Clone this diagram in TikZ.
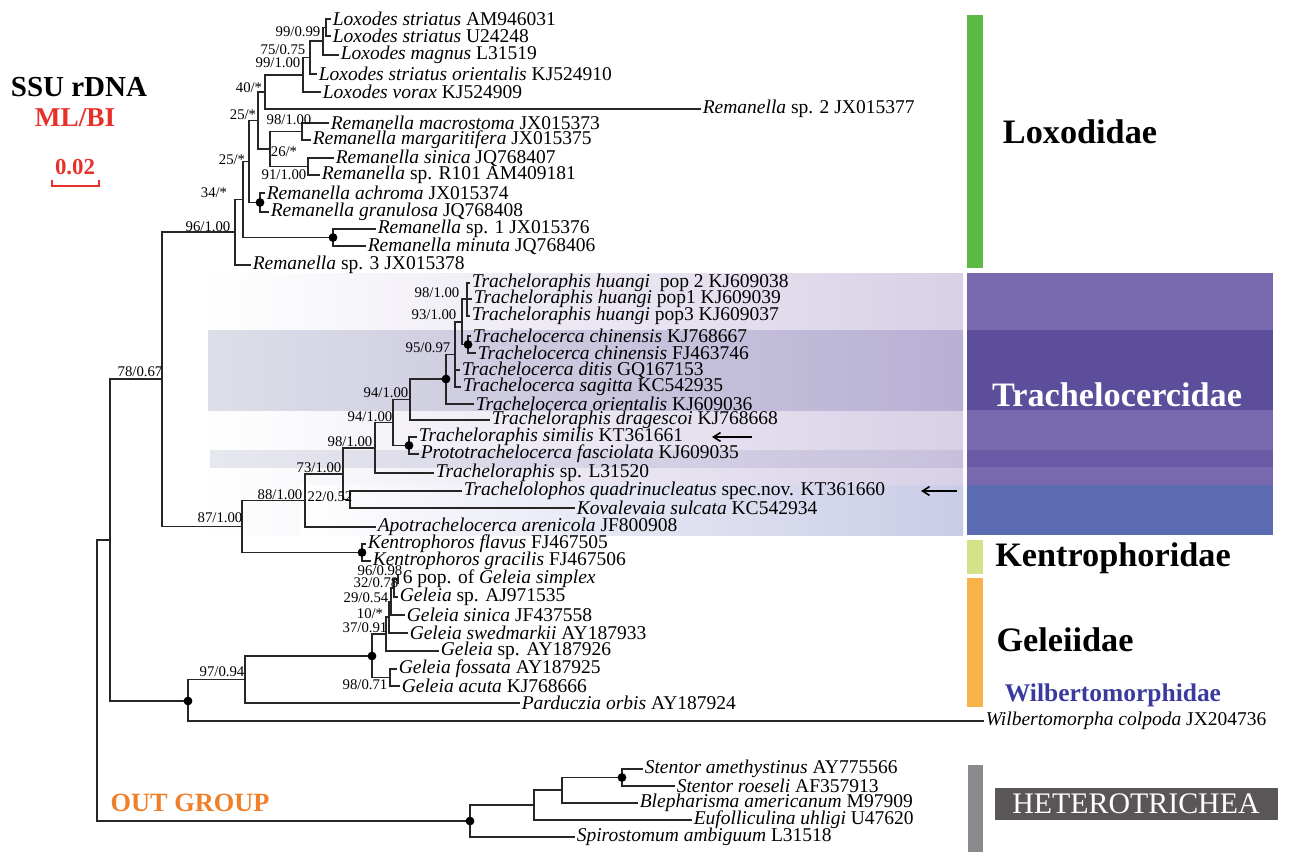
\documentclass[tikz,border=0pt]{standalone}
\usepackage{fontspec}
\setmainfont{Liberation Serif}
\usetikzlibrary{arrows.meta}

\definecolor{barred}{HTML}{E8302A}
\definecolor{outorange}{HTML}{F07F2A}
\definecolor{wilblue}{HTML}{3B3B9E}
\definecolor{loxgreen}{HTML}{5CB946}
\definecolor{kengreen}{HTML}{D4E28A}
\definecolor{gelorange}{HTML}{F7B347}
\definecolor{hetgrey}{HTML}{8A898E}
\definecolor{hetbox}{HTML}{5A5657}
\definecolor{trA}{HTML}{7868AD}
\definecolor{trB}{HTML}{5C4E9A}
\definecolor{trC}{HTML}{6A5AA5}
\definecolor{trD}{HTML}{5B6BB1}
\definecolor{lavlight}{HTML}{D8D0E6}
\definecolor{lavdark}{HTML}{B8B0D4}
\definecolor{greyband}{HTML}{DCDEE8}
\definecolor{bluelight}{HTML}{C9CCE6}

\tikzset{
  leaf/.style={anchor=west, inner xsep=0.8pt, inner ysep=0pt, font=\fontsize{11.1}{13}\selectfont},
  supp/.style={inner sep=0pt, font=\fontsize{8.4}{10}\selectfont},
  br/.style={line width=0.7pt, black!85},
  knot/.style={circle, fill=black, inner sep=0pt, minimum size=5pt},
  clade/.style={font=\bfseries\fontsize{19.5}{22}\selectfont},
}

\begin{document}
\begin{tikzpicture}[x=0.02cm, y=-0.02cm]
  \useasboundingbox (0,0) rectangle (1292,852);

  % shaded background of the Trachelocercidae part
  \shade[left color=white, right color=lavlight] (200,273) rectangle (963,535);
  \shade[left color=greyband, right color=lavdark] (208,330) rectangle (963,410);
  \shade[left color=greyband!70, right color=lavdark!80] (210,450) rectangle (963,467);
  \shade[left color=white, right color=bluelight] (300,485) rectangle (963,535);

  % family bars and boxes
  \fill[loxgreen] (967,15) rectangle (983,268);
  \fill[trA] (967,273) rectangle (1273,330);
  \fill[trB] (967,330) rectangle (1273,410);
  \fill[trA] (967,410) rectangle (1273,450);
  \fill[trC] (967,450) rectangle (1273,467);
  \fill[trA] (967,467) rectangle (1273,485);
  \fill[trD] (967,485) rectangle (1273,535);
  \fill[kengreen] (967,540) rectangle (983,574);
  \fill[gelorange] (967,578) rectangle (983,707);
  \fill[hetgrey] (968,765) rectangle (983,852);
  \fill[hetbox] (995,788) rectangle (1278,820);

  \node[clade] (loxo) at (1080,132) {Loxodidae};
  \node[clade, text=white] (trach) at (1117,395) {Trachelocercidae};
  \node[clade] (kent) at (1113,558) {Kentrophoridae};
  \node[clade] (gele) at (1065,640) {Geleiidae};
  \node[font=\bfseries\fontsize{14.5}{17}\selectfont, text=wilblue] (wilb) at (1113,695) {Wilbertomorphidae};
  \node[font=\fontsize{17}{20}\selectfont, text=white] (hetero) at (1136,804) {HETEROTRICHEA};

  % title and scale
  \node[font=\bfseries\fontsize{16.5}{19}\selectfont] (ssu) at (79,87) {SSU rDNA};
  \node[font=\bfseries\fontsize{15.5}{18}\selectfont, text=barred] (mlbi) at (75,118) {ML/BI};
  \node[font=\bfseries\fontsize{13}{15}\selectfont, text=barred] (scal) at (75,167) {0.02};
  \draw[barred, line width=1.1pt] (52,180) -- (52,186) -- (99,186) -- (99,180);
  \node[font=\bfseries\fontsize{15}{18}\selectfont, text=outorange] (outg) at (190,803) {OUT GROUP};

  % internal nodes
  \coordinate (D) at (326,27.5);
  \coordinate (C) at (323,41);
  \coordinate (B) at (310,57.5);
  \coordinate (A) at (303,75);
  \coordinate (E) at (265,92);
  \coordinate (F) at (302,131.5);
  \coordinate (G) at (308,166.5);
  \coordinate (H) at (270,149);
  \coordinate (I) at (258,120.5);
  \coordinate (J) at (260,202.5);
  \coordinate (K) at (249,161.5);
  \coordinate (M) at (333,237.5);
  \coordinate (L) at (243,199.5);
  \coordinate (N) at (235,232);
  \coordinate (H3) at (467,299);
  \coordinate (CH) at (468,344.5);
  \coordinate (BB) at (462,322);
  \coordinate (AA) at (455,354.5);
  \coordinate (Z) at (446,379);
  \coordinate (X) at (410,399.5);
  \coordinate (Y) at (409,445.5);
  \coordinate (W) at (393,422.5);
  \coordinate (V) at (375,448);
  \coordinate (U) at (350,499.5);
  \coordinate (T) at (343,474);
  \coordinate (R) at (305,500.5);
  \coordinate (S) at (362,552.5);
  \coordinate (Q) at (242,526.5);
  \coordinate (P) at (162,379);
  \coordinate (G32) at (394,588);
  \coordinate (G29) at (391,601.5);
  \coordinate (G10) at (389,617);
  \coordinate (G37) at (386,634);
  \coordinate (GF) at (390,677.5);
  \coordinate (GB) at (372,656);
  \coordinate (GA) at (245,679.5);
  \coordinate (GW) at (188,701);
  \coordinate (P2) at (110,540);
  \coordinate (OJ) at (622,777.5);
  \coordinate (OI) at (562,790);
  \coordinate (OH) at (534,805);
  \coordinate (OG) at (470,821);
  \coordinate (root) at (97,680.5);
  \coordinate (sx) at (398,579);
  \coordinate (sxtop) at (398,574);
  \coordinate (sxbot) at (398,584);

  % leaves
  \node[leaf] (l1) at (331,19) {\textit{Loxodes striatus} AM946031};
  \node[leaf] (l2) at (331,36) {\textit{Loxodes striatus} U24248};
  \node[leaf] (l3) at (339,55) {\textit{Loxodes magnus} L31519};
  \node[leaf] (l4) at (317,74) {\textit{Loxodes striatus orientalis} KJ524910};
  \node[leaf] (l5) at (321,92) {\textit{Loxodes vorax} KJ524909};
  \node[leaf] (l6) at (701,109) {\textit{Remanella} sp. 2 JX015377};
  \node[leaf] (l7) at (329,123) {\textit{Remanella macrostoma} JX015373};
  \node[leaf] (l8) at (311,140) {\textit{Remanella margaritifera} JX015375};
  \node[leaf] (l9) at (334,158) {\textit{Remanella sinica} JQ768407};
  \node[leaf] (l10) at (320,175) {\textit{Remanella} sp. R101 AM409181};
  \node[leaf] (l11) at (265,193) {\textit{Remanella achroma} JX015374};
  \node[leaf] (l12) at (269,212) {\textit{Remanella granulosa} JQ768408};
  \node[leaf] (l13) at (376,229) {\textit{Remanella} sp. 1 JX015376};
  \node[leaf] (l14) at (366,246) {\textit{Remanella minuta} JQ768406};
  \node[leaf] (l15) at (251,265) {\textit{Remanella} sp. 3 JX015378};
  \node[leaf] (l16) at (470,283) {\textit{Tracheloraphis huangi}\ \ pop 2 KJ609038};
  \node[leaf] (l17) at (472,299) {\textit{Tracheloraphis huangi} pop1 KJ609039};
  \node[leaf] (l18) at (470,316) {\textit{Tracheloraphis huangi} pop3 KJ609037};
  \node[leaf] (l19) at (471,336) {\textit{Trachelocerca chinensis} KJ768667};
  \node[leaf] (l20) at (476,353) {\textit{Trachelocerca chinensis} FJ463746};
  \node[leaf] (l21) at (460,370) {\textit{Trachelocerca ditis} GQ167153};
  \node[leaf] (l22) at (461,387) {\textit{Trachelocerca sagitta} KC542935};
  \node[leaf] (l23) at (474,404) {\textit{Trachelocerca orientalis} KJ609036};
  \node[leaf] (l24) at (490,420) {\textit{Tracheloraphis dragescoi} KJ768668};
  \node[leaf] (l25) at (417,437) {\textit{Tracheloraphis similis} KT361661};
  \node[leaf] (l26) at (419,454) {\textit{Prototrachelocerca fasciolata} KJ609035};
  \node[leaf] (l27) at (434,473) {\textit{Tracheloraphis} sp. L31520};
  \node[leaf] (l28) at (462,491) {\textit{Trachelolophos quadrinucleatus} spec.nov. KT361660};
  \node[leaf] (l29) at (575,508) {\textit{Kovalevaia sulcata} KC542934};
  \node[leaf] (l30) at (376,527) {\textit{Apotrachelocerca arenicola} JF800908};
  \node[leaf] (l31) at (366,544) {\textit{Kentrophoros flavus} FJ467505};
  \node[leaf] (l32) at (371,561) {\textit{Kentrophoros gracilis} FJ467506};
  \node[leaf] (l33) at (401,579) {6 pop. of \textit{Geleia simplex}};
  \node[leaf] (l34) at (398,597) {\textit{Geleia} sp. AJ971535};
  \node[leaf] (l35) at (405,615) {\textit{Geleia sinica} JF437558};
  \node[leaf] (l36) at (408,633) {\textit{Geleia swedmarkii} AY187933};
  \node[leaf] (l37) at (439,651) {\textit{Geleia} sp. AY187926};
  \node[leaf] (l38) at (397,669) {\textit{Geleia fossata} AY187925};
  \node[leaf] (l39) at (400,686) {\textit{Geleia acuta} KJ768666};
  \node[leaf] (l40) at (520,703) {\textit{Parduczia orbis} AY187924};
  \node[leaf] (l41) at (984,721) {\textit{Wilbertomorpha colpoda} JX204736};
  \node[leaf] (l42) at (643,769) {\textit{Stentor amethystinus} AY775566};
  \node[leaf] (l43) at (675,786) {\textit{Stentor roeseli} AF357913};
  \node[leaf] (l44) at (638,803) {\textit{Blepharisma americanum} M97909};
  \node[leaf] (l45) at (692,820) {\textit{Eufolliculina uhligi} U47620};
  \node[leaf] (l46) at (575,837) {\textit{Spirostomum ambiguum} L31518};

  % branches
  \draw[br] (D) |- (l1.west);
  \draw[br] (D) |- (l2.west);
  \draw[br] (C) |- (D);
  \draw[br] (C) |- (l3.west);
  \draw[br] (B) |- (C);
  \draw[br] (B) |- (l4.west);
  \draw[br] (A) |- (B);
  \draw[br] (A) |- (l5.west);
  \draw[br] (E) |- (A);
  \draw[br] (E) |- (l6.west);
  \draw[br] (F) |- (l7.west);
  \draw[br] (F) |- (l8.west);
  \draw[br] (G) |- (l9.west);
  \draw[br] (G) |- (l10.west);
  \draw[br] (H) |- (F);
  \draw[br] (H) |- (G);
  \draw[br] (I) |- (E);
  \draw[br] (I) |- (H);
  \draw[br] (J) |- (l11.west);
  \draw[br] (J) |- (l12.west);
  \draw[br] (K) |- (I);
  \draw[br] (K) |- (J);
  \draw[br] (M) |- (l13.west);
  \draw[br] (M) |- (l14.west);
  \draw[br] (L) |- (K);
  \draw[br] (L) |- (M);
  \draw[br] (N) |- (L);
  \draw[br] (N) |- (l15.west);
  \draw[br] (H3) |- (l16.west);
  \draw[br] (H3) |- (l17.west);
  \draw[br] (H3) |- (l18.west);
  \draw[br] (CH) |- (l19.west);
  \draw[br] (CH) |- (l20.west);
  \draw[br] (BB) |- (H3);
  \draw[br] (BB) |- (CH);
  \draw[br] (AA) |- (BB);
  \draw[br] (AA) |- (l21.west);
  \draw[br] (AA) |- (l22.west);
  \draw[br] (Z) |- (AA);
  \draw[br] (Z) |- (l23.west);
  \draw[br] (X) |- (Z);
  \draw[br] (X) |- (l24.west);
  \draw[br] (Y) |- (l25.west);
  \draw[br] (Y) |- (l26.west);
  \draw[br] (W) |- (X);
  \draw[br] (W) |- (Y);
  \draw[br] (V) |- (W);
  \draw[br] (V) |- (l27.west);
  \draw[br] (U) |- (l28.west);
  \draw[br] (U) |- (l29.west);
  \draw[br] (T) |- (V);
  \draw[br] (T) |- (U);
  \draw[br] (R) |- (T);
  \draw[br] (R) |- (l30.west);
  \draw[br] (S) |- (l31.west);
  \draw[br] (S) |- (l32.west);
  \draw[br] (Q) |- (R);
  \draw[br] (Q) |- (S);
  \draw[br] (P) |- (N);
  \draw[br] (P) |- (Q);
  \draw[br] (G32) |- (sx);
  \draw[br] (sxtop) -- (sxbot);
  \draw[br] (G32) |- (l34.west);
  \draw[br] (G29) |- (G32);
  \draw[br] (G29) |- (l35.west);
  \draw[br] (G10) |- (G29);
  \draw[br] (G10) |- (l36.west);
  \draw[br] (G37) |- (G10);
  \draw[br] (G37) |- (l37.west);
  \draw[br] (GF) |- (l38.west);
  \draw[br] (GF) |- (l39.west);
  \draw[br] (GB) |- (G37);
  \draw[br] (GB) |- (GF);
  \draw[br] (GA) |- (GB);
  \draw[br] (GA) |- (l40.west);
  \draw[br] (GW) |- (GA);
  \draw[br] (GW) |- (l41.west);
  \draw[br] (P2) |- (P);
  \draw[br] (P2) |- (GW);
  \draw[br] (OJ) |- (l42.west);
  \draw[br] (OJ) |- (l43.west);
  \draw[br] (OI) |- (OJ);
  \draw[br] (OI) |- (l44.west);
  \draw[br] (OH) |- (OI);
  \draw[br] (OH) |- (l45.west);
  \draw[br] (OG) |- (OH);
  \draw[br] (OG) |- (l46.west);
  \draw[br] (root) |- (P2);
  \draw[br] (root) |- (OG);

  % dots on nodes
  \node[knot] (kJ) at (J) {};
  \node[knot] (kM) at (M) {};
  \node[knot] (kCH) at (CH) {};
  \node[knot] (kZ) at (Z) {};
  \node[knot] (kY) at (Y) {};
  \node[knot] (kS) at (S) {};
  \node[knot] (kGB) at (GB) {};
  \node[knot] (kGW) at (GW) {};
  \node[knot] (kOJ) at (OJ) {};
  \node[knot] (kOG) at (OG) {};

  % support values
  \node[supp] (s1) at (298,32) {99/0.99};
  \node[supp] (s2) at (283,50) {75/0.75};
  \node[supp] (s3) at (278,63) {99/1.00};
  \node[supp] (s4) at (249,88) {40/*};
  \node[supp] (s5) at (243,115) {25/*};
  \node[supp] (s6) at (289,120) {98/1.00};
  \node[supp] (s7) at (284,152) {26/*};
  \node[supp] (s8) at (284,175) {91/1.00};
  \node[supp] (s9) at (232,160) {25/*};
  \node[supp] (s10) at (214,193) {34/*};
  \node[supp] (s11) at (208,227) {96/1.00};
  \node[supp] (s12) at (140,372) {78/0.67};
  \node[supp] (s13) at (437,293) {98/1.00};
  \node[supp] (s14) at (434,315) {93/1.00};
  \node[supp] (s15) at (428,348) {95/0.97};
  \node[supp] (s16) at (386,393) {94/1.00};
  \node[supp] (s17) at (370,417) {94/1.00};
  \node[supp] (s18) at (350,442) {98/1.00};
  \node[supp] (s19) at (319,468) {73/1.00};
  \node[supp] (s20) at (330,497) {22/0.52};
  \node[supp] (s21) at (280,495) {88/1.00};
  \node[supp] (s22) at (220,518) {87/1.00};
  \node[supp] (s23) at (380,571) {96/0.98};
  \node[supp] (s24) at (376,583) {32/0.78};
  \node[supp] (s25) at (366,598) {29/0.54};
  \node[supp] (s26) at (370,614) {10/*};
  \node[supp] (s27) at (365,628) {37/0.91};
  \node[supp] (s28) at (365,685) {98/0.71};
  \node[supp] (s29) at (222,672) {97/0.94};

  % arrows to the new species
  \coordinate (ar1a) at (752,437);
  \coordinate (ar1b) at (712,437);
  \coordinate (ar2a) at (957,491);
  \coordinate (ar2b) at (921,491);
  \draw[line width=0.9pt, -{Straight Barb[length=4pt,width=5pt]}] (ar1a) -- (ar1b);
  \draw[line width=0.9pt, -{Straight Barb[length=4pt,width=5pt]}] (ar2a) -- (ar2b);
\end{tikzpicture}
\end{document}
